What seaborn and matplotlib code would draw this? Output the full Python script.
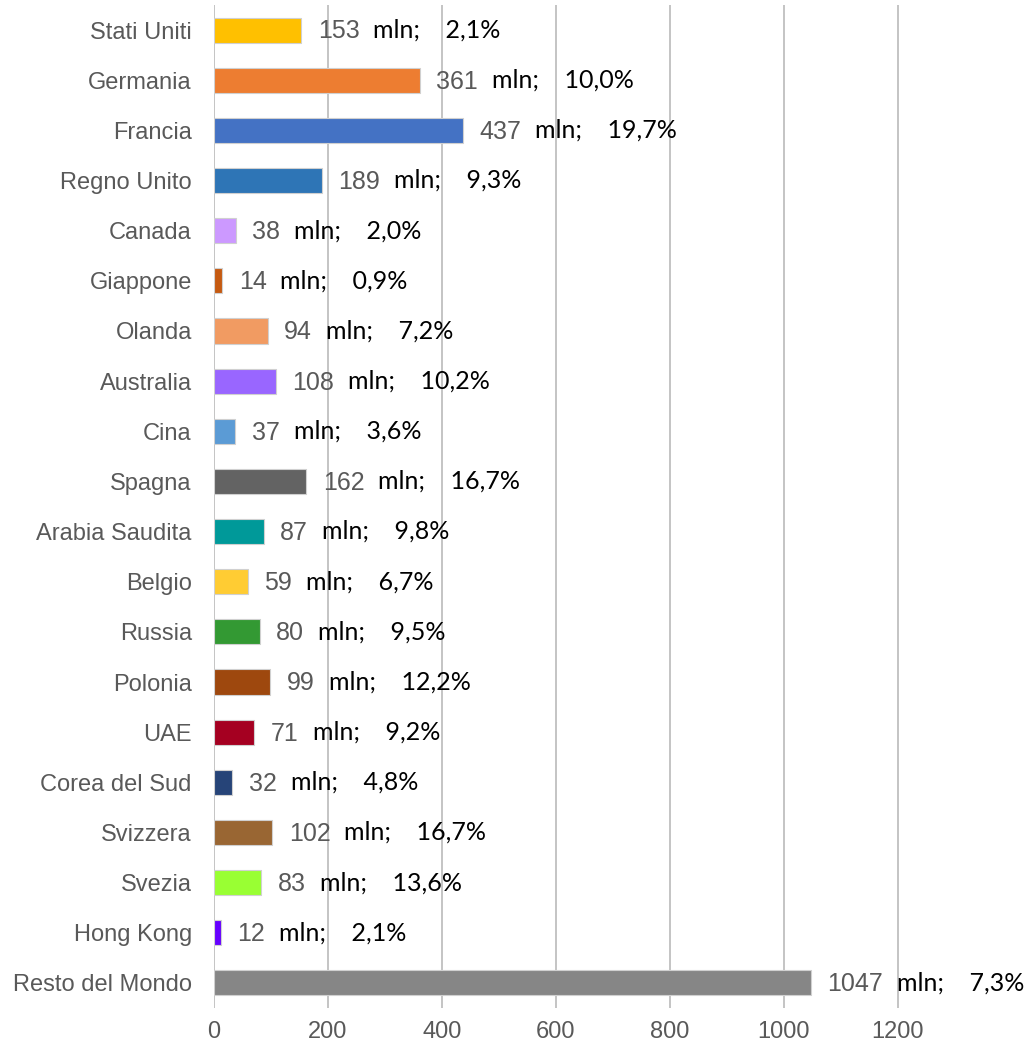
import matplotlib
matplotlib.use("Agg")
import matplotlib.pyplot as plt
import seaborn as sns
import pandas as pd

countries = ["Stati Uniti", "Germania", "Francia", "Regno Unito", "Canada",
             "Giappone", "Olanda", "Australia", "Cina", "Spagna",
             "Arabia Saudita", "Belgio", "Russia", "Polonia", "UAE",
             "Corea del Sud", "Svizzera", "Svezia", "Hong Kong", "Resto del Mondo"]
values = [153, 361, 437, 189, 38, 14, 94, 108, 37, 162,
          87, 59, 80, 99, 71, 32, 102, 83, 12, 1047]
shares = ["2,1%", "10,0%", "19,7%", "9,3%", "2,0%", "0,9%", "7,2%", "10,2%", "3,6%", "16,7%",
          "9,8%", "6,7%", "9,5%", "12,2%", "9,2%", "4,8%", "16,7%", "13,6%", "2,1%", "7,3%"]
colors = ["#FFC000", "#ED7D31", "#4472C4", "#2E75B6", "#CC99FF",
          "#C55A11", "#F19B62", "#9966FF", "#5B9BD5", "#636363",
          "#009999", "#FFCC33", "#339933", "#9E480E", "#A50021",
          "#264478", "#996633", "#99FF33", "#6600FF", "#868686"]
x_ticks = [0, 200, 400, 600, 800, 1000, 1200]

df = pd.DataFrame({"paese": countries, "valore": values})

sns.set_style("white")
fig = plt.figure(figsize=(10.33, 10.47), dpi=100)
ax = fig.add_axes([214 / 1033, 39 / 1047, (1030 - 214) / 1033, (1042 - 39) / 1047])

sns.barplot(data=df, x="valore", y="paese", hue="paese", palette=colors,
            legend=False, width=0.5, orient="h", saturation=1,
            edgecolor="#d0d0d0", linewidth=0.8, ax=ax, zorder=3)

ax.set_xlim(0, 1432)
ax.set_ylim(len(countries) - 0.5, -0.5)
ax.set_xticks(x_ticks)
ax.set_xticklabels([str(t) for t in x_ticks])
ax.grid(axis="x", color="#c4c4c4", linewidth=1.4, zorder=0)
ax.grid(axis="y", visible=False)
for s in ax.spines.values():
    s.set_visible(False)
ax.set_xlabel("")
ax.set_ylabel("")
ax.tick_params(axis="y", length=0, pad=16, labelsize=17, labelcolor="#595959")
ax.tick_params(axis="x", length=0, pad=9, labelsize=17, labelcolor="#595959")
for lab in ax.get_yticklabels() + ax.get_xticklabels():
    lab.set_fontfamily("Liberation Sans")

for i, (v, pct) in enumerate(zip(values, shares)):
    num = ax.annotate(str(v), xy=(v, i), xytext=(12, -1), textcoords="offset points",
                      va="center", ha="left", fontsize=18, color="#595959",
                      family="Liberation Sans", zorder=4)
    ax.annotate(f"mln;    {pct}", xy=(1, 0.5), xycoords=num, xytext=(10, 1),
                textcoords="offset points", va="center", ha="left",
                fontsize=18, color="black", family="Lato", zorder=4)

fig.savefig("out.png", dpi=100)
